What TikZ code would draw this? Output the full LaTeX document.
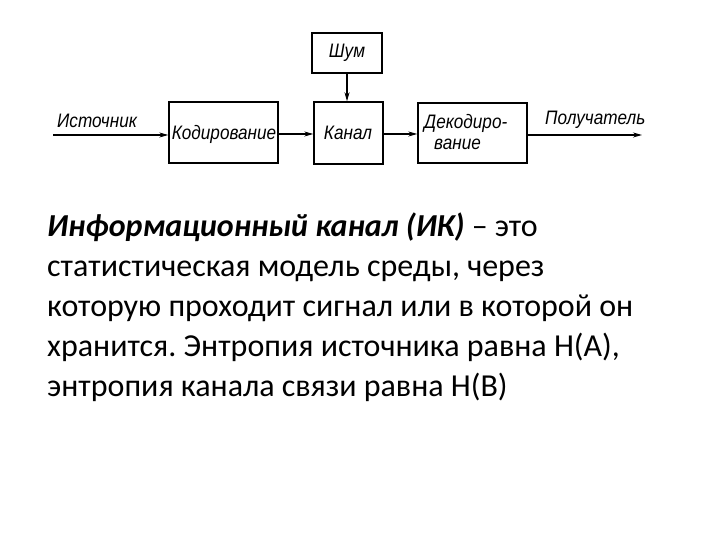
\documentclass[tikz,border=0pt]{standalone}
\usepackage{fontspec}
\setmainfont{Carlito}
\newfontfamily\diafont{Liberation Sans}[FakeStretch=0.88]
\usetikzlibrary{arrows.meta}
\frenchspacing
\begin{document}
\begin{tikzpicture}[x=1pt,y=1pt,
  blk/.style={draw,line width=1.4pt,inner sep=0pt},
  lbl/.style={font=\diafont\itshape\fontsize{19.5}{21}\selectfont,inner sep=0pt},
  conn/.style={line width=1.2pt,-{Stealth[length=9pt,width=5pt]}},
  para/.style={font=\fontsize{32}{40}\selectfont,inner sep=0pt,anchor=base west}]
\useasboundingbox (0,0) rectangle (720,540);
% boxes (y = 540 - pixel row)
\node[blk,minimum width=109pt,minimum height=61pt] (kod) at (223.5,407.5) {};
\node[blk,minimum width=69pt,minimum height=62pt] (kan) at (348.5,407) {};
\node[blk,minimum width=70pt,minimum height=40pt] (shum) at (347,487) {};
\node[blk,minimum width=109pt,minimum height=60pt] (dek) at (472.5,407) {};
\coordinate (src) at (53,405);
\coordinate (dst) at (642,405);
% labels
\node[lbl] (tshum) at (shum) {Шум};
\node[lbl] (tkod) at (224,406) {Кодирование};
\node[lbl] (tkan) at (348,407) {Канал};
\node[lbl,align=left,anchor=west] (tdek) at (424,408) {Декодиро-\\\hspace*{10pt}вание};
\node[lbl,anchor=base west] (tsrc) at (57,412) {Источник};
\node[lbl,anchor=base west] (tdst) at (545,415) {Получатель};
% connectors
\draw[conn] (src) -- (kod.west |- src);
\draw[conn] (kod.east |- 0,406) -- (kan.west |- 0,406);
\draw[conn] (kan.east |- 0,406) -- (dek.west |- 0,406);
\draw[conn] (dek.east |- dst) -- (dst);
\draw[conn] (shum.south) -- (shum.south |- kan.north);
% paragraph
\node[para] (p1) at (47,303) {\textbf{\textit{Информационный канал (ИК)}} – это};
\node[para] (p2) at (47,263) {статистическая модель среды, через};
\node[para] (p3) at (47,223) {которую проходит сигнал или в которой он};
\node[para] (p4) at (47,183) {хранится. Энтропия источника равна Н(А),};
\node[para] (p5) at (47,143) {энтропия канала связи равна Н(В)};
\end{tikzpicture}
\end{document}
